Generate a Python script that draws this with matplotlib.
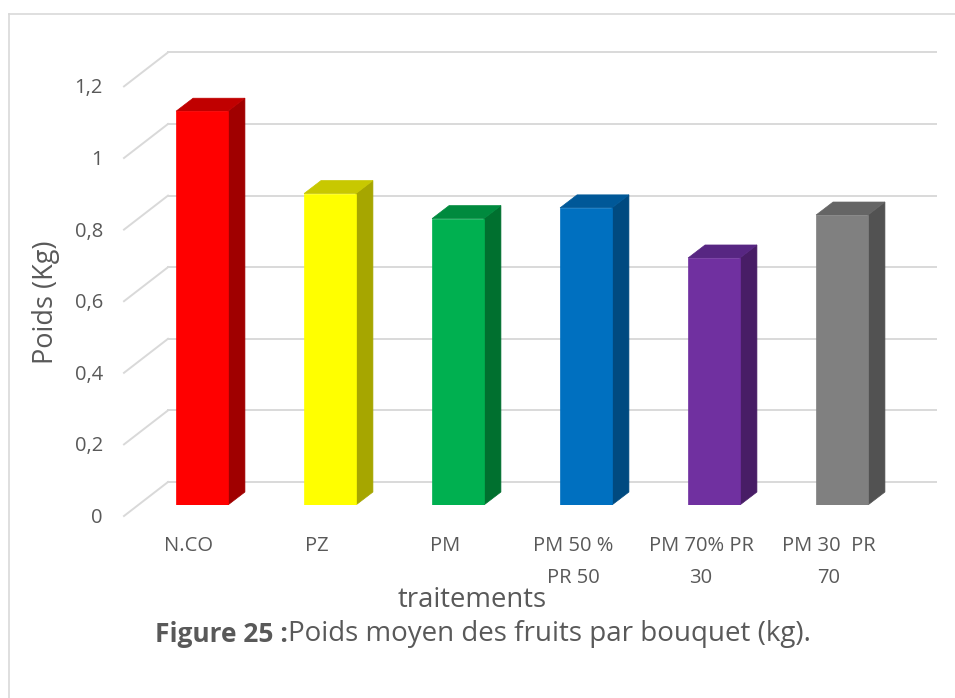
import matplotlib.pyplot as plt
from matplotlib.patches import Polygon

plt.rcParams['font.family'] = ['Open Sans', 'DejaVu Sans']

categories = ["N.CO", "PZ", "PM", "PM 50 %\nPR 50", "PM 70% PR\n30", "PM 30  PR\n70"]
poids = [1.10, 0.87, 0.80, 0.83, 0.69, 0.81]
face_colors = ["#FF0000", "#FFFF00", "#00B050", "#0070C0", "#7030A0", "#808080"]
top_colors = ["#C00000", "#C8C800", "#008A3E", "#005898", "#572682", "#656565"]
side_colors = ["#A00000", "#A6A600", "#00702F", "#004A80", "#481D66", "#525252"]
y_ticks = [0, 0.2, 0.4, 0.6, 0.8, 1.0, 1.2]
y_tick_labels = ["0", "0,2", "0,4", "0,6", "0,8", "1", "1,2"]

W, H = 955, 698
fig = plt.figure(figsize=(W / 100, H / 100), dpi=100)
ax = fig.add_axes([138 / W, (H - 505) / H, 768 / W, 429.6 / H])
ax.set_xlim(-0.5, 5.5)
ax.set_ylim(0, 1.2)
ax.axis('off')

# pixel -> data units
px_x = 6 / 768
px_y = 1.2 / 429.6

text_col = "#595959"
grid_col = "#D9D9D9"

# 3D offsets (pixels)
wall_dx, wall_dy = 30, 23      # back wall relative to bar front plane
front_dx, front_dy = 14, 11    # front edge of floor relative to bar front plane
depth_dx, depth_dy = 17, 13    # bar depth
bar_w = 0.405

# back wall gridlines + slanted side lines
for v, lab in zip(y_ticks, y_tick_labels):
    ax.plot([-0.5 + wall_dx * px_x, 5.5 + wall_dx * px_x], [v + wall_dy * px_y] * 2,
            color=grid_col, lw=1.4, clip_on=False, zorder=1)
    ax.plot([-0.5 - front_dx * px_x, -0.5 + wall_dx * px_x],
            [v - front_dy * px_y, v + wall_dy * px_y],
            color=grid_col, lw=1.4, clip_on=False, zorder=1)
    ax.text(-0.5 - (front_dx + 21) * px_x, v - (front_dy + 2) * px_y, lab,
            ha='right', va='center', fontsize=14.5, color=text_col)

# 3D bars
for i, (v, fc, tc, sc) in enumerate(zip(poids, face_colors, top_colors, side_colors)):
    xl, xr = i - bar_w / 2, i + bar_w / 2
    ddx, ddy = depth_dx * px_x, depth_dy * px_y
    ax.add_patch(Polygon([(xr, 0), (xr, v), (xr + ddx, v + ddy), (xr + ddx, ddy)],
                         closed=True, facecolor=sc, edgecolor=sc, lw=0.5, zorder=3))
    ax.add_patch(Polygon([(xl, v), (xr, v), (xr + ddx, v + ddy), (xl + ddx, v + ddy)],
                         closed=True, facecolor=tc, edgecolor=tc, lw=0.5, zorder=3))
    ax.bar(i, v, width=bar_w, color=fc, edgecolor=fc, lw=0.5, zorder=4)
    ax.text(i - 13 * px_x, -31 * px_y, categories[i], ha='center', va='top',
            fontsize=14.5, color=text_col, linespacing=1.78)

fig.text(46 / W, 1 - 302 / H, "Poids (Kg)", rotation=90, ha='center', va='center',
         fontsize=19.5, color=text_col)
fig.text(472 / W, 1 - 600 / H, "traitements", ha='center', va='center',
         fontsize=19.8, color=text_col)
fig.text(288 / W, 1 - 634 / H, "Figure 25 :", ha='right', va='center',
         fontsize=19, fontweight='bold', color=text_col)
fig.text(288 / W, 1 - 634 / H, "Poids moyen des fruits par bouquet (kg).", ha='left',
         va='center', fontsize=20, color=text_col)

# outer frame (top and left visible)
fig.add_artist(plt.Line2D([9 / W, 1], [1 - 14 / H, 1 - 14 / H], color=grid_col, lw=1.2))
fig.add_artist(plt.Line2D([9 / W, 9 / W], [0, 1 - 14 / H], color=grid_col, lw=1.2))

fig.savefig("out.png", dpi=100, facecolor="white")
